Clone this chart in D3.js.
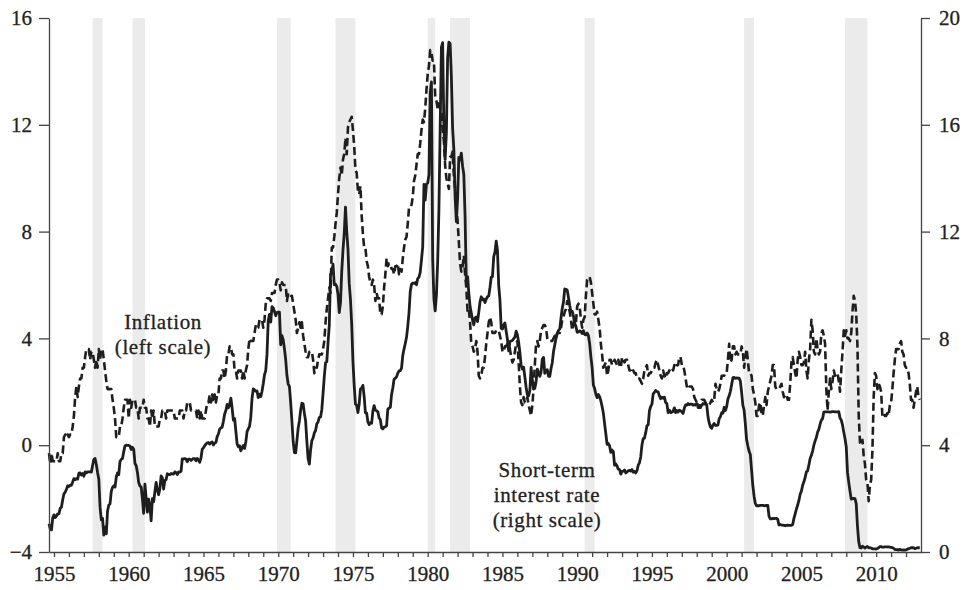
<!DOCTYPE html>
<html>
<head>
<meta charset="utf-8">
<script src="https://cdn.jsdelivr.net/npm/d3@7"></script>
<style>
  html, body { margin: 0; padding: 0; background: #fff; }
  svg { display: block; }
  .axis text { font-family: "Liberation Serif", "Times New Roman", serif; font-size: 21px; fill: #222; stroke: #222; stroke-width: 0.3px; }
  .axis path, .axis line { stroke: #444; stroke-width: 1.3; }
  .note { font-family: "Liberation Serif", "Times New Roman", serif; font-size: 21px; fill: #222; stroke: #222; stroke-width: 0.3px; letter-spacing: 0.6px; }
</style>
</head>
<body>
<div id="chart"></div>
<script>
// monthly series, first value = Sep 1954, last value = Dec 2012
const seriesStart = 1954 + 8 / 12;

// short-term interest rate (right scale), percent
const shortRate = [
  1.06, 0.85, 0.83, 1.28,
  1.39, 1.29, 1.35, 1.43, 1.43, 1.64, 1.68, 1.96, 2.18, 2.24, 2.35, 2.48,
  2.45, 2.50, 2.50, 2.62, 2.75, 2.71, 2.75, 2.73, 2.95, 2.96, 2.88, 2.94,
  2.84, 3.00, 2.96, 3.00, 3.00, 3.00, 2.99, 3.24, 3.47, 3.50, 3.28, 2.98,
  2.72, 1.67, 1.20, 1.26, 0.63, 0.93, 0.68, 1.53, 1.76, 1.80, 2.27, 2.42,
  2.48, 2.43, 2.80, 2.96, 2.90, 3.39, 3.47, 3.50, 3.76, 3.98, 4.00, 3.99,
  3.99, 3.97, 3.84, 3.92, 3.85, 3.32, 3.23, 2.98, 2.60, 2.47, 2.44, 1.98,
  1.45, 2.54, 2.02, 1.49, 1.98, 1.73, 1.17, 2.00, 1.88, 2.26, 2.61, 2.33,
  2.15, 2.37, 2.85, 2.78, 2.36, 2.68, 2.71, 2.93, 2.90, 2.90, 2.94, 2.93,
  2.92, 3.00, 2.98, 2.90, 3.00, 2.99, 3.02, 3.49, 3.48, 3.50, 3.48, 3.38,
  3.48, 3.48, 3.43, 3.47, 3.50, 3.50, 3.42, 3.50, 3.45, 3.36, 3.52, 3.85,
  3.90, 3.98, 4.04, 4.09, 4.10, 4.04, 4.09, 4.12, 4.01, 4.08, 4.10, 4.32,
  4.42, 4.60, 4.65, 4.67, 4.90, 5.17, 5.30, 5.53, 5.40, 5.53, 5.76, 5.40,
  4.94, 5.00, 4.53, 4.05, 3.94, 3.98, 3.79, 3.90, 3.99, 3.88, 4.13, 4.51,
  4.61, 4.71, 5.05, 5.76, 6.11, 6.07, 6.02, 6.03, 5.78, 5.91, 5.82, 6.02,
  6.30, 6.64, 6.79, 7.41, 8.67, 8.90, 8.61, 9.19, 9.15, 9.00, 8.85, 8.97,
  8.98, 8.98, 7.76, 8.10, 7.95, 7.61, 7.21, 6.61, 6.29, 6.20, 5.60, 4.90,
  4.14, 3.72, 3.71, 4.16, 4.63, 4.91, 5.31, 5.57, 5.55, 5.20, 4.91, 4.14,
  3.50, 3.29, 3.83, 4.17, 4.27, 4.46, 4.55, 4.80, 4.87, 5.04, 5.06, 5.33,
  5.94, 6.58, 7.09, 7.12, 7.84, 8.49, 10.40, 10.50, 10.78, 10.01, 10.03, 9.95,
  9.65, 8.97, 9.35, 10.51, 11.31, 11.93, 12.92, 12.01, 11.34, 10.06, 9.45, 8.53,
  7.13, 6.24, 5.54, 5.49, 5.22, 5.55, 6.10, 6.14, 6.24, 5.82, 5.22, 5.20,
  4.87, 4.77, 4.84, 4.82, 5.29, 5.48, 5.31, 5.29, 5.25, 5.02, 4.95, 4.65,
  4.61, 4.68, 4.69, 4.73, 5.35, 5.39, 5.42, 5.90, 6.14, 6.47, 6.51, 6.56,
  6.70, 6.78, 6.79, 6.89, 7.36, 7.60, 7.81, 8.04, 8.45, 8.96, 9.76, 10.03,
  10.07, 10.06, 10.09, 10.01, 10.24, 10.29, 10.47, 10.94, 11.43, 13.77, 13.18, 13.78,
  13.82, 14.13, 17.19, 17.61, 10.98, 9.47, 9.03, 9.61, 10.87, 12.81, 15.85, 18.90,
  19.08, 15.93, 14.70, 15.72, 18.52, 19.10, 19.04, 17.82, 15.87, 15.08, 13.31, 12.37,
  13.22, 14.78, 14.68, 14.94, 14.45, 14.15, 12.59, 10.12, 10.31, 9.71, 9.20, 8.95,
  8.68, 8.51, 8.77, 8.80, 8.63, 8.98, 9.37, 9.56, 9.45, 9.48, 9.34, 9.47,
  9.56, 9.59, 9.91, 10.29, 10.32, 11.06, 11.23, 11.64, 11.30, 9.99, 9.43, 8.38,
  8.35, 8.50, 8.58, 8.27, 7.97, 7.53, 7.88, 7.90, 7.92, 7.99, 8.05, 8.27,
  8.14, 7.86, 7.48, 6.99, 6.85, 6.92, 6.56, 6.17, 5.89, 5.85, 6.04, 6.91,
  6.43, 6.10, 6.13, 6.37, 6.85, 6.73, 6.58, 6.73, 7.22, 7.29, 6.69, 6.77,
  6.83, 6.58, 6.58, 6.87, 7.09, 7.51, 7.75, 8.01, 8.19, 8.30, 8.35, 8.76,
  9.12, 9.36, 9.85, 9.84, 9.81, 9.53, 9.24, 8.99, 9.02, 8.84, 8.55, 8.45,
  8.23, 8.24, 8.28, 8.26, 8.18, 8.29, 8.15, 8.13, 8.20, 8.11, 7.81, 7.31,
  6.91, 6.25, 6.12, 5.91, 5.78, 5.90, 5.82, 5.66, 5.45, 5.21, 4.81, 4.43,
  4.03, 4.06, 3.98, 3.73, 3.82, 3.76, 3.25, 3.30, 3.22, 3.10, 3.09, 2.92,
  3.02, 3.03, 3.07, 2.96, 3.00, 3.04, 3.06, 3.03, 3.09, 2.99, 3.02, 2.96,
  3.05, 3.25, 3.34, 3.56, 4.01, 4.25, 4.26, 4.47, 4.73, 4.76, 5.29, 5.45,
  5.53, 5.92, 5.98, 6.05, 6.01, 6.00, 5.85, 5.74, 5.80, 5.76, 5.80, 5.60,
  5.56, 5.22, 5.31, 5.22, 5.24, 5.27, 5.40, 5.22, 5.30, 5.24, 5.31, 5.29,
  5.25, 5.19, 5.39, 5.51, 5.50, 5.56, 5.52, 5.54, 5.54, 5.50, 5.52, 5.50,
  5.56, 5.51, 5.49, 5.45, 5.49, 5.56, 5.54, 5.55, 5.51, 5.07, 4.83, 4.68,
  4.63, 4.76, 4.81, 4.74, 4.74, 4.76, 4.99, 5.07, 5.22, 5.20, 5.42, 5.30,
  5.45, 5.73, 5.85, 6.02, 6.27, 6.53, 6.54, 6.50, 6.52, 6.51, 6.51, 6.40,
  5.98, 5.49, 5.31, 4.80, 4.21, 3.97, 3.77, 3.65, 3.07, 2.49, 2.09, 1.82,
  1.73, 1.74, 1.73, 1.75, 1.75, 1.75, 1.73, 1.74, 1.75, 1.75, 1.34, 1.24,
  1.24, 1.26, 1.25, 1.26, 1.26, 1.22, 1.01, 1.03, 1.01, 1.01, 1.00, 0.98,
  1.00, 1.01, 1.00, 1.00, 1.00, 1.03, 1.26, 1.43, 1.61, 1.76, 1.93, 2.16,
  2.28, 2.50, 2.63, 2.79, 3.00, 3.04, 3.26, 3.50, 3.62, 3.78, 4.00, 4.16,
  4.29, 4.49, 4.59, 4.79, 4.94, 4.99, 5.24, 5.25, 5.25, 5.25, 5.25, 5.24,
  5.25, 5.26, 5.26, 5.25, 5.25, 5.25, 5.26, 5.02, 4.94, 4.76, 4.49, 4.24,
  3.94, 2.98, 2.61, 2.28, 1.98, 2.00, 2.01, 2.00, 1.81, 0.97, 0.39, 0.16,
  0.15, 0.22, 0.18, 0.15, 0.18, 0.21, 0.16, 0.16, 0.15, 0.12, 0.12, 0.12,
  0.11, 0.13, 0.16, 0.20, 0.20, 0.18, 0.18, 0.19, 0.19, 0.19, 0.19, 0.18,
  0.17, 0.16, 0.14, 0.10, 0.09, 0.09, 0.07, 0.10, 0.08, 0.07, 0.08, 0.07,
  0.08, 0.10, 0.13, 0.14, 0.16, 0.16, 0.16, 0.13, 0.14, 0.16, 0.16, 0.16
];

// inflation, percent change from a year earlier (left scale)
const inflation = [
  -0.3, -0.7, -0.3, -0.6,
  -0.6, -0.6, -0.6, -0.3, -0.6, -0.6, -0.3, -0.3, 0.3, 0.4, 0.3, 0.4,
  0.3, 0.4, 0.4, 0.7, 1.1, 1.8, 2.2, 1.8, 2.2, 2.5, 2.5, 2.9,
  2.9, 3.3, 3.6, 3.6, 3.6, 3.2, 3.5, 3.5, 3.2, 2.9, 3.2, 2.9,
  3.6, 3.2, 3.6, 3.6, 3.2, 2.8, 2.4, 2.1, 2.1, 2.1, 2.1, 1.7,
  1.4, 1.0, 0.3, 0.3, 0.3, 0.7, 0.7, 1.0, 1.4, 1.7, 1.7, 1.7,
  1.0, 1.7, 1.4, 1.7, 1.7, 1.7, 1.4, 1.4, 1.0, 1.4, 1.4, 1.4,
  1.7, 1.4, 1.4, 1.0, 1.0, 0.7, 1.3, 1.0, 1.3, 0.7, 0.7, 0.7,
  0.7, 1.0, 1.0, 1.3, 1.3, 1.3, 1.0, 1.3, 1.3, 1.3, 1.3, 1.3,
  1.3, 1.0, 1.0, 1.0, 1.0, 1.3, 1.3, 1.3, 1.0, 1.3, 1.3, 1.6,
  1.6, 1.6, 1.3, 1.3, 1.3, 1.3, 1.3, 1.0, 1.3, 1.0, 1.3, 1.0,
  1.0, 1.0, 1.3, 1.6, 1.6, 1.9, 1.6, 1.9, 1.6, 1.9, 1.6, 1.9,
  1.9, 2.5, 2.5, 2.8, 2.8, 2.5, 2.8, 3.4, 3.4, 3.7, 3.7, 3.4,
  3.4, 2.8, 2.8, 2.5, 2.8, 2.8, 2.8, 2.5, 2.8, 2.5, 2.8, 3.0,
  3.6, 4.0, 3.9, 3.9, 3.9, 4.2, 4.5, 4.4, 4.4, 4.7, 4.7, 4.7,
  4.4, 4.7, 5.3, 5.5, 5.5, 5.5, 5.4, 5.7, 5.7, 5.7, 6.0, 6.2,
  6.2, 6.1, 5.8, 6.1, 6.0, 6.0, 6.0, 5.4, 5.7, 5.7, 5.6, 5.6,
  5.3, 5.0, 4.7, 4.2, 4.4, 4.6, 4.4, 4.6, 4.1, 3.8, 3.5, 3.3,
  3.3, 3.5, 3.5, 3.5, 3.2, 2.7, 2.9, 2.9, 3.2, 3.4, 3.4, 3.4,
  3.6, 3.9, 4.6, 5.1, 5.5, 5.9, 5.7, 7.4, 7.4, 7.8, 8.3, 8.7,
  9.4, 10.0, 10.4, 10.1, 10.7, 10.9, 11.5, 10.9, 11.9, 12.1, 12.2, 12.3,
  11.8, 11.2, 10.3, 10.2, 9.5, 9.4, 9.7, 8.6, 7.9, 7.4, 7.4, 6.9,
  6.7, 6.3, 6.1, 6.0, 6.2, 6.0, 5.4, 5.7, 5.5, 5.5, 4.9, 4.9,
  5.2, 5.9, 6.4, 7.0, 6.7, 6.8, 6.8, 6.6, 6.6, 6.4, 6.7, 6.7,
  6.8, 6.4, 6.6, 6.5, 7.0, 7.4, 7.7, 7.8, 8.3, 8.9, 8.9, 9.0,
  9.3, 9.9, 10.1, 10.5, 10.9, 10.9, 11.3, 11.8, 12.2, 12.1, 12.6, 13.3,
  13.9, 14.2, 14.8, 14.7, 14.4, 14.4, 13.1, 12.9, 12.6, 12.8, 12.6, 12.5,
  11.8, 11.4, 10.5, 10.0, 9.8, 9.6, 10.8, 10.8, 11.0, 10.1, 9.6, 8.9,
  8.4, 7.6, 6.8, 6.5, 6.7, 7.1, 6.4, 5.9, 5.0, 5.1, 4.6, 3.8,
  3.7, 3.5, 3.6, 3.9, 3.5, 2.6, 2.5, 2.6, 2.9, 2.9, 3.3, 3.8,
  4.2, 4.6, 4.8, 4.6, 4.2, 4.2, 4.2, 4.3, 4.3, 4.3, 4.1, 3.9,
  3.5, 3.5, 3.7, 3.7, 3.8, 3.8, 3.6, 3.3, 3.1, 3.2, 3.5, 3.8,
  3.9, 3.1, 2.2, 1.6, 1.5, 1.8, 1.6, 1.6, 1.8, 1.5, 1.3, 1.1,
  1.5, 2.1, 3.0, 3.8, 3.9, 3.7, 3.9, 4.3, 4.4, 4.5, 4.5, 4.4,
  4.0, 3.9, 3.9, 3.9, 3.9, 4.0, 4.1, 4.0, 4.2, 4.2, 4.2, 4.4,
  4.7, 4.8, 5.0, 5.1, 5.4, 5.2, 5.0, 4.7, 4.3, 4.5, 4.7, 4.6,
  5.2, 5.3, 5.2, 4.7, 4.4, 4.7, 4.8, 5.6, 6.2, 6.3, 6.3, 6.1,
  5.7, 5.3, 4.9, 4.9, 5.0, 4.7, 4.4, 3.8, 3.4, 2.9, 3.0, 3.1,
  2.6, 2.8, 3.2, 3.2, 3.0, 3.1, 3.2, 3.1, 3.0, 3.2, 3.0, 2.9,
  3.3, 3.2, 3.1, 3.2, 3.2, 3.0, 2.8, 2.8, 2.7, 2.8, 2.7, 2.7,
  2.5, 2.5, 2.5, 2.4, 2.3, 2.5, 2.8, 2.9, 3.0, 2.6, 2.7, 2.7,
  2.8, 2.9, 2.9, 3.1, 3.2, 3.0, 2.8, 2.6, 2.5, 2.8, 2.6, 2.5,
  2.7, 2.7, 2.8, 2.9, 2.9, 2.8, 3.0, 2.9, 3.0, 3.0, 3.3, 3.3,
  3.0, 3.0, 2.8, 2.5, 2.2, 2.3, 2.2, 2.2, 2.2, 2.1, 1.8, 1.7,
  1.6, 1.4, 1.4, 1.4, 1.7, 1.7, 1.7, 1.6, 1.5, 1.5, 1.5, 1.6,
  1.7, 1.6, 1.7, 2.3, 2.1, 2.0, 2.1, 2.3, 2.6, 2.6, 2.6, 2.7,
  2.7, 3.2, 3.8, 3.1, 3.2, 3.7, 3.7, 3.4, 3.5, 3.4, 3.4, 3.4,
  3.7, 3.5, 2.9, 3.3, 3.6, 3.2, 2.7, 2.7, 2.6, 2.1, 1.9, 1.6,
  1.1, 1.1, 1.5, 1.6, 1.2, 1.1, 1.5, 1.8, 1.5, 2.0, 2.2, 2.4,
  2.6, 3.0, 3.0, 2.2, 2.1, 2.1, 2.1, 2.2, 2.3, 2.0, 1.8, 1.9,
  1.9, 1.7, 1.7, 2.3, 3.1, 3.3, 3.0, 2.7, 2.5, 3.2, 3.5, 3.3,
  3.0, 3.0, 3.1, 3.5, 2.8, 2.5, 3.2, 3.6, 4.7, 4.3, 3.5, 3.4,
  4.0, 3.6, 3.4, 3.5, 4.2, 4.3, 4.1, 3.8, 2.1, 1.3, 2.0, 2.5,
  2.1, 2.4, 2.8, 2.6, 2.7, 2.7, 2.4, 2.0, 2.8, 3.5, 4.3, 4.1,
  4.3, 4.0, 4.0, 3.9, 4.2, 5.0, 5.6, 5.4, 4.9, 3.7, 1.1, 0.1,
  0.0, 0.2, -0.4, -0.7, -1.3, -1.4, -2.1, -1.5, -1.3, -0.2, 1.8, 2.7,
  2.6, 2.1, 2.3, 2.2, 2.0, 1.1, 1.2, 1.1, 1.1, 1.2, 1.1, 1.5,
  1.6, 2.1, 2.7, 3.2, 3.6, 3.6, 3.6, 3.8, 3.9, 3.5, 3.4, 3.0,
  2.9, 2.9, 2.7, 2.3, 1.7, 1.7, 1.4, 1.7, 2.0, 2.2, 1.8, 1.7
];

// recessions, [start, end] as decimal years
const recessions = [
  [1957 + 7 / 12, 1958 + 3 / 12],
  [1960 + 3 / 12, 1961 + 1 / 12],
  [1969 + 11 / 12, 1970 + 10 / 12],
  [1973 + 10 / 12, 1975 + 2 / 12],
  [1980 + 0 / 12, 1980 + 6 / 12],
  [1981 + 6 / 12, 1982 + 10 / 12],
  [1990 + 6 / 12, 1991 + 2 / 12],
  [2001 + 2 / 12, 2001 + 10 / 12],
  [2007 + 11 / 12, 2009 + 5 / 12]
];

const leftTicks = [-4, 0, 4, 8, 12, 16];
const rightTicks = [0, 4, 8, 12, 16, 20];
const yearTicks = d3.range(1955, 2013);

const inflationNote = ["Inflation", "(left scale)"];
const rateNote = ["Short-term", "interest rate", "(right scale)"];

class RateChart {
    constructor(container) {
        this.width = 965;
        this.height = 590;
        this.box = { left: 49, right: 921, top: 18, bottom: 552 };
        this.svg = d3.select(container).append("svg")
            .attr("width", this.width).attr("height", this.height);
        this._initScales();
        this._drawBands();
        this._drawLines();
        this._drawAxes();
        this._drawNotes();
    }

    _initScales() {
        let b = this.box;
        this.x = d3.scaleLinear().domain([seriesStart, 2013]).range([b.left, b.right]);
        this.yLeft = d3.scaleLinear().domain([-4, 16]).range([b.bottom, b.top]);
        this.yRight = d3.scaleLinear().domain([0, 20]).range([b.bottom, b.top]);
    }

    _drawBands() {
        let b = this.box;
        this.svg.append("g").selectAll("rect")
            .data(recessions)
            .join("rect")
            .attr("x", d => this.x(d[0]))
            .attr("width", d => this.x(d[1]) - this.x(d[0]))
            .attr("y", b.top)
            .attr("height", b.bottom - b.top)
            .attr("fill", "#ebebeb");
    }

    _drawLines() {
        let monthX = (d, i) => this.x(seriesStart + i / 12);

        // inflation, left scale
        this.svg.append("path")
            .datum(inflation)
            .attr("d", d3.line().x(monthX).y(d => this.yLeft(d)))
            .attr("fill", "none")
            .attr("stroke", "#1e1e1e")
            .attr("stroke-width", 2.6)
            .attr("stroke-dasharray", "8,4")
            .attr("stroke-linejoin", "round");

        // short-term rate, right scale
        this.svg.append("path")
            .datum(shortRate)
            .attr("d", d3.line().x(monthX).y(d => this.yRight(d)))
            .attr("fill", "none")
            .attr("stroke", "#1e1e1e")
            .attr("stroke-width", 2.8)
            .attr("stroke-linejoin", "round");
    }

    _drawAxes() {
        let b = this.box;
        let xAxis = d3.axisBottom(this.x)
            .tickValues(yearTicks)
            .tickSize(5)
            .tickSizeOuter(0)
            .tickPadding(9)
            .tickFormat(d => d % 5 === 0 ? d : "");
        this.svg.append("g").attr("class", "axis")
            .attr("transform", `translate(0,${b.bottom})`)
            .call(xAxis);

        let leftAxis = d3.axisLeft(this.yLeft)
            .tickValues(leftTicks)
            .tickSize(10)
            .tickSizeOuter(0)
            .tickPadding(7)
            .tickFormat(d3.format("d"));
        this.svg.append("g").attr("class", "axis")
            .attr("transform", `translate(${b.left},0)`)
            .call(leftAxis);

        let rightAxis = d3.axisRight(this.yRight)
            .tickValues(rightTicks)
            .tickSize(9)
            .tickSizeOuter(0)
            .tickPadding(9)
            .tickFormat(d3.format("d"));
        this.svg.append("g").attr("class", "axis")
            .attr("transform", `translate(${b.right},0)`)
            .call(rightAxis);
    }

    _drawNotes() {
        let note = (lines, cx, y0) => {
            let t = this.svg.append("text").attr("class", "note").attr("text-anchor", "middle");
            lines.forEach((s, i) => {
                t.append("tspan").attr("x", cx).attr("y", y0 + i * 25).text(s);
            });
        };
        note(inflationNote, 163, 329);
        note(rateNote, 547, 477);
    }
}

new RateChart("#chart");
</script>
</body>
</html>
